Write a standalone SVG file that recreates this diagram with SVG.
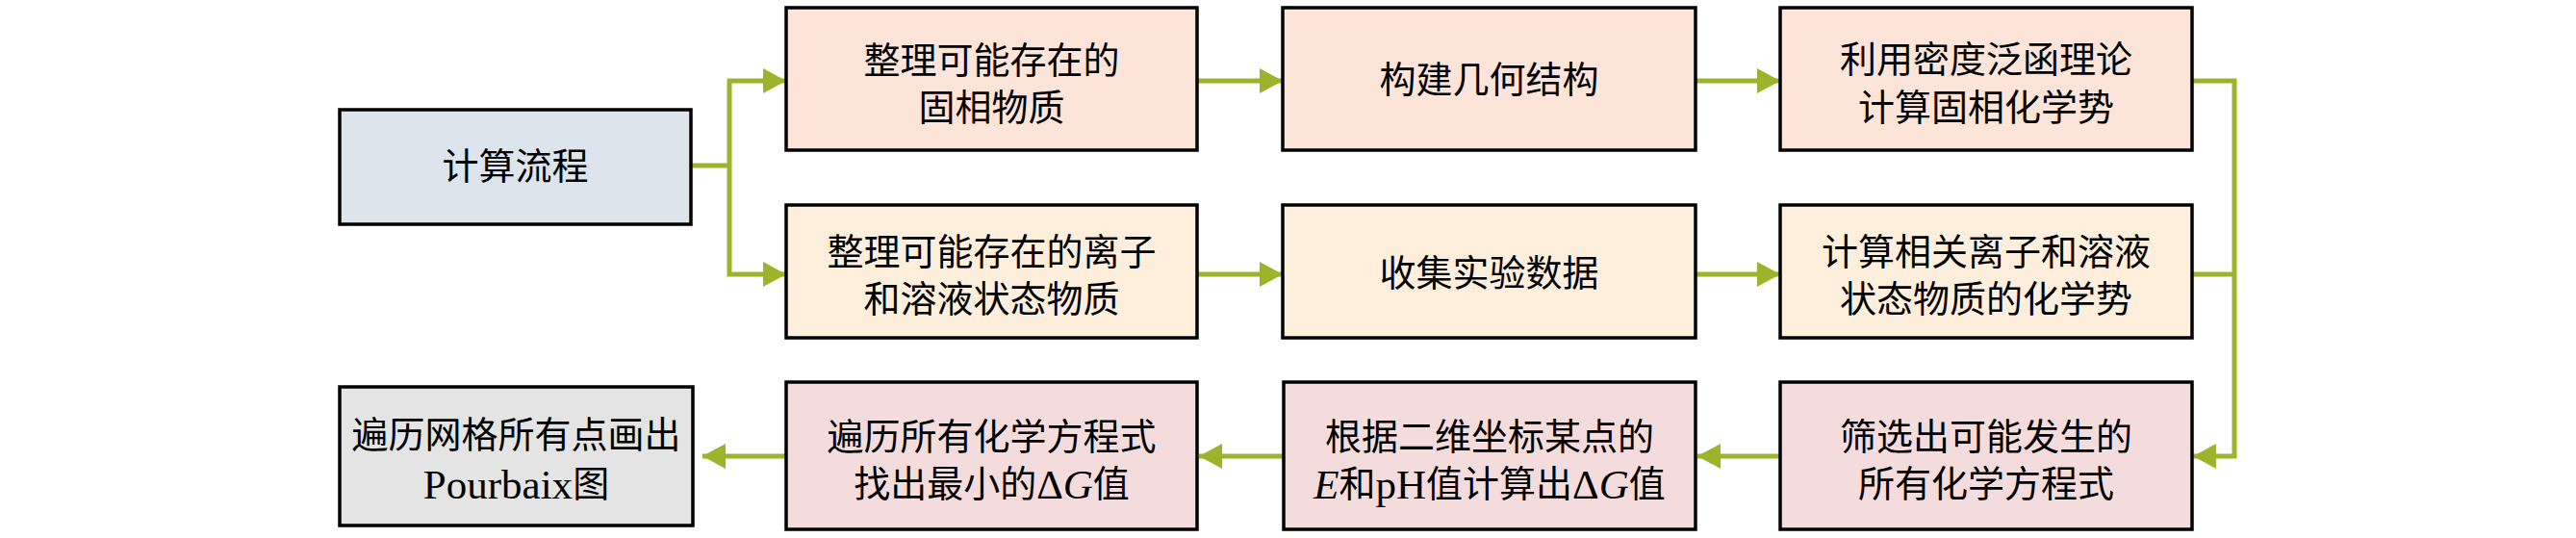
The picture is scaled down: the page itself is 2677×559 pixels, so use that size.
<svg xmlns="http://www.w3.org/2000/svg" width="2677" height="559" viewBox="0 0 2677 559">
<style>
.box{stroke:#000;stroke-width:3.5}
.c0{fill:#DCE4EC}
.r1{fill:#FCE4D8}
.r2{fill:#FEEFDD}
.r3{fill:#F5DCDC}
.gr{fill:#E4E4E4}
.t{font-family:"Liberation Serif","Noto Sans CJK SC",serif;font-size:38px;fill:#000;text-anchor:middle;dominant-baseline:central}
.lat{font-size:43px}
.it{font-style:italic}
.conn{fill:none;stroke:#9BB42B;stroke-width:5}
</style>
<defs>
<marker id="ah" markerUnits="userSpaceOnUse" markerWidth="26" markerHeight="28" refX="24" refY="13" orient="auto">
<path d="M0,0 L24,13 L0,26 z" fill="#9BB42B"/>
</marker>
</defs>
<rect width="2677" height="559" fill="#fff"/>
<g id="connectors">
<path class="conn" d="M718,172 H758"/>
<path class="conn" d="M758,172 V84 H817" marker-end="url(#ah)"/>
<path class="conn" d="M758,172 V285 H817" marker-end="url(#ah)"/>
<path class="conn" d="M1244,84 H1333" marker-end="url(#ah)"/>
<path class="conn" d="M1762,84 H1850" marker-end="url(#ah)"/>
<path class="conn" d="M1244,285 H1333" marker-end="url(#ah)"/>
<path class="conn" d="M1762,285 H1850" marker-end="url(#ah)"/>
<path class="conn" d="M2278,285 H2322"/>
<path class="conn" d="M2278,84 H2322 V474 H2279" marker-end="url(#ah)"/>
<path class="conn" d="M1850,474 H1764" marker-end="url(#ah)"/>
<path class="conn" d="M1334,474 H1246" marker-end="url(#ah)"/>
<path class="conn" d="M817,474 H730" marker-end="url(#ah)"/>
</g>
<g id="n-start">
<rect class="box c0" x="353" y="114" width="365" height="119"/>
<text class="t" x="535.5" y="173">计算流程</text>
</g>
<g id="n-solid">
<rect class="box r1" x="817" y="8" width="427" height="148"/>
<text class="t" x="1030.5" y="63">整理可能存在的</text>
<text class="t" x="1030.5" y="112">固相物质</text>
</g>
<g id="n-geom">
<rect class="box r1" x="1333" y="8" width="429" height="148"/>
<text class="t" x="1547.5" y="83">构建几何结构</text>
</g>
<g id="n-dft">
<rect class="box r1" x="1850" y="8" width="428" height="148"/>
<text class="t" x="2064" y="62">利用密度泛函理论</text>
<text class="t" x="2064" y="112">计算固相化学势</text>
</g>
<g id="n-ion">
<rect class="box r2" x="817" y="213" width="427" height="138"/>
<text class="t" x="1030.5" y="262">整理可能存在的离子</text>
<text class="t" x="1030.5" y="311">和溶液状态物质</text>
</g>
<g id="n-exp">
<rect class="box r2" x="1333" y="213" width="429" height="138"/>
<text class="t" x="1547.5" y="284">收集实验数据</text>
</g>
<g id="n-ionmu">
<rect class="box r2" x="1850" y="213" width="428" height="138"/>
<text class="t" x="2064" y="262">计算相关离子和溶液</text>
<text class="t" x="2064" y="311">状态物质的化学势</text>
</g>
<g id="n-screen">
<rect class="box r3" x="1850" y="397" width="428" height="153"/>
<text class="t" x="2064" y="454">筛选出可能发生的</text>
<text class="t" x="2064" y="503">所有化学方程式</text>
</g>
<g id="n-calc">
<rect class="box r3" x="1334" y="397" width="428" height="153"/>
<text class="t" x="1548" y="454">根据二维坐标某点的</text>
<text class="t" x="1548" y="503"><tspan class="it lat">E</tspan>和<tspan class="lat">pH</tspan>值计算出<tspan class="lat">Δ</tspan><tspan class="it lat">G</tspan>值</text>
</g>
<g id="n-min">
<rect class="box r3" x="817" y="397" width="427" height="153"/>
<text class="t" x="1030.5" y="454">遍历所有化学方程式</text>
<text class="t" x="1030.5" y="503">找出最小的<tspan class="lat">Δ</tspan><tspan class="it lat">G</tspan>值</text>
</g>
<g id="n-pourbaix">
<rect class="box gr" x="353" y="402" width="367" height="144"/>
<text class="t" x="536.5" y="452">遍历网格所有点画出</text>
<text class="t" x="536.5" y="503"><tspan class="lat">Pourbaix</tspan>图</text>
</g>
</svg>
